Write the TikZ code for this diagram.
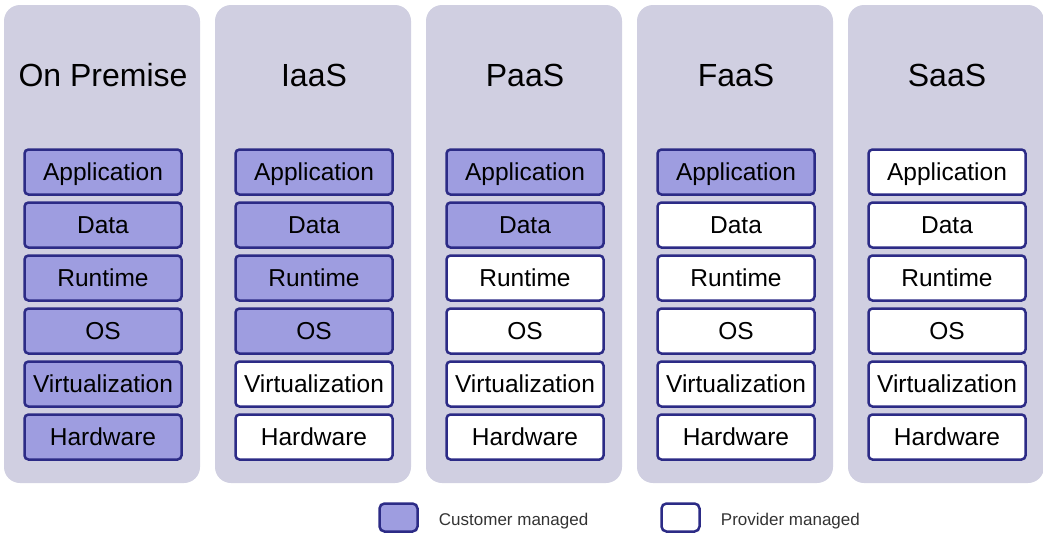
\documentclass[tikz,border=0pt]{standalone}
\usepackage{fontspec}
\setmainfont{Liberation Sans}
\usetikzlibrary{positioning}
\definecolor{panelgray}{HTML}{D0CFE1}
\definecolor{custfill}{HTML}{9E9DE0}
\definecolor{layerline}{HTML}{2C2B86}
\tikzset{
  panel/.style={fill=panelgray, rounded corners=16pt},
  coltitle/.style={inner sep=0pt, font=\fontsize{32}{32}\selectfont},
  layer/.style={draw=layerline, line width=2.5pt, rounded corners=4pt,
    minimum width=157pt, minimum height=45pt, inner sep=0pt,
    text height=17.5pt, text depth=0pt,
    font=\fontsize{24.5}{24.5}\selectfont},
  cust/.style={layer, fill=custfill},
  prov/.style={layer, fill=white},
  keybox/.style={draw=layerline, line width=2.5pt, rounded corners=5pt,
    minimum width=38pt, minimum height=28pt, inner sep=0pt},
  keytext/.style={inner sep=0pt, yshift=-4pt, font=\fontsize{17}{17}\selectfont, text=black!80}
}
\begin{document}
\begin{tikzpicture}[x=1pt,y=-1pt]
  \useasboundingbox (0,0) rectangle (1043,536);
  \clip (0,0) rectangle (1043,536);
  \begin{scope}[xshift=0pt]
    \fill[panel] (4,5) rectangle (200,483);
    \node[coltitle] (op) at (103,75) {On Premise};
    \node[cust] (op-app) at (103,172) {Application};
    \node[cust] (op-data) at (103,225) {Data};
    \node[cust] (op-run) at (103,278) {Runtime};
    \node[cust] (op-os) at (103,331) {OS};
    \node[cust] (op-virt) at (103,384) {Virtualization};
    \node[cust] (op-hw) at (103,437) {Hardware};
  \end{scope}
  \begin{scope}[xshift=211pt]
    \fill[panel] (4,5) rectangle (200,483);
    \node[coltitle] (iaas) at (103,75) {IaaS};
    \node[cust] (iaas-app) at (103,172) {Application};
    \node[cust] (iaas-data) at (103,225) {Data};
    \node[cust] (iaas-run) at (103,278) {Runtime};
    \node[cust] (iaas-os) at (103,331) {OS};
    \node[prov] (iaas-virt) at (103,384) {Virtualization};
    \node[prov] (iaas-hw) at (103,437) {Hardware};
  \end{scope}
  \begin{scope}[xshift=422pt]
    \fill[panel] (4,5) rectangle (200,483);
    \node[coltitle] (paas) at (103,75) {PaaS};
    \node[cust] (paas-app) at (103,172) {Application};
    \node[cust] (paas-data) at (103,225) {Data};
    \node[prov] (paas-run) at (103,278) {Runtime};
    \node[prov] (paas-os) at (103,331) {OS};
    \node[prov] (paas-virt) at (103,384) {Virtualization};
    \node[prov] (paas-hw) at (103,437) {Hardware};
  \end{scope}
  \begin{scope}[xshift=633pt]
    \fill[panel] (4,5) rectangle (200,483);
    \node[coltitle] (faas) at (103,75) {FaaS};
    \node[cust] (faas-app) at (103,172) {Application};
    \node[prov] (faas-data) at (103,225) {Data};
    \node[prov] (faas-run) at (103,278) {Runtime};
    \node[prov] (faas-os) at (103,331) {OS};
    \node[prov] (faas-virt) at (103,384) {Virtualization};
    \node[prov] (faas-hw) at (103,437) {Hardware};
  \end{scope}
  \begin{scope}[xshift=844pt]
    \fill[panel] (4,5) rectangle (200,483);
    \node[coltitle] (saas) at (103,75) {SaaS};
    \node[prov] (saas-app) at (103,172) {Application};
    \node[prov] (saas-data) at (103,225) {Data};
    \node[prov] (saas-run) at (103,278) {Runtime};
    \node[prov] (saas-os) at (103,331) {OS};
    \node[prov] (saas-virt) at (103,384) {Virtualization};
    \node[prov] (saas-hw) at (103,437) {Hardware};
  \end{scope}
  % legend
  \node[keybox, fill=custfill] (custkey) at (398.5,517.5) {};
  \node[keytext, right=20pt of custkey] (custlabel) {Customer managed};
  \node[keybox, fill=white] (provkey) at (680.5,517.5) {};
  \node[keytext, right=20pt of provkey] (provlabel) {Provider managed};
\end{tikzpicture}
\end{document}
